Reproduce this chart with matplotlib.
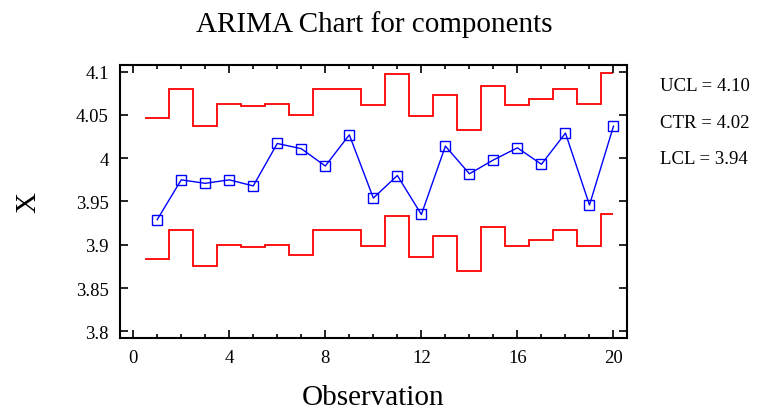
import numpy as np
import matplotlib
matplotlib.use("Agg")
from matplotlib import pyplot as plt
from matplotlib.ticker import MultipleLocator

plt.rcParams['font.family'] = ['Liberation Serif', 'DejaVu Serif']

obs = np.arange(1, 21)
x_values = [3.929, 3.975, 3.971, 3.975, 3.968, 4.017, 4.011, 3.991, 4.027, 3.954,
            3.980, 3.935, 4.014, 3.982, 3.998, 4.012, 3.993, 4.029, 3.946, 4.037]
ucl = [4.047, 4.080, 4.037, 4.063, 4.060, 4.063, 4.050, 4.080, 4.080, 4.061,
       4.097, 4.049, 4.073, 4.033, 4.083, 4.061, 4.068, 4.080, 4.063, 4.098]
lcl = [3.884, 3.917, 3.875, 3.900, 3.898, 3.900, 3.888, 3.917, 3.917, 3.899,
       3.933, 3.886, 3.910, 3.870, 3.920, 3.899, 3.906, 3.917, 3.899, 3.935]
y_ticks = [3.8, 3.85, 3.9, 3.95, 4.0, 4.05, 4.1]
y_tick_labels = ["3.8", "3.85", "3.9", "3.95", "4", "4.05", "4.1"]
x_ticks = [0, 4, 8, 12, 16, 20]
limit_text = ["UCL = 4.10", "CTR = 4.02", "LCL = 3.94"]

fig = plt.figure(figsize=(7.7, 4.1), dpi=100)
ax = fig.add_axes([0.1558, 0.1724, 0.6581, 0.6674])

# step limits: each level spans half an observation either side
edges = np.concatenate([obs - 0.5, [obs[-1]]])
ax.stairs(ucl, edges, baseline=None, color="#ff0000", linewidth=1.3)
ax.stairs(lcl, edges, baseline=None, color="#ff0000", linewidth=1.3)

ax.plot(obs, x_values, color="#0000ff", linewidth=1.0, marker="s",
        markersize=6.5, markerfacecolor="none", markeredgecolor="#0000ff",
        markeredgewidth=1.0)

ax.set_xlim(-0.55, 20.55)
ax.set_ylim(3.792, 4.108)
ax.set_xticks(x_ticks)
ax.xaxis.set_minor_locator(MultipleLocator(1))
ax.set_yticks(y_ticks)
ax.set_yticklabels(y_tick_labels)

ax.tick_params(axis="both", which="both", direction="in", top=True, right=True,
               labelsize=13.5, width=1.2)
ax.tick_params(axis="both", which="major", length=6, pad=8)
ax.tick_params(axis="both", which="minor", length=3)
for sp in ax.spines.values():
    sp.set_linewidth(1.5)

ax.set_xlabel("Observation", fontsize=21, labelpad=13)
ax.set_ylabel("X", fontsize=21, labelpad=25)
fig.text(0.486, 0.94, "ARIMA Chart for components", fontsize=21,
         ha="center", va="center")

for i, txt in enumerate(limit_text):
    fig.text(0.857, 0.788 - i * 0.089, txt, fontsize=13.5, ha="left", va="center")

fig.savefig("out.png", dpi=100)
